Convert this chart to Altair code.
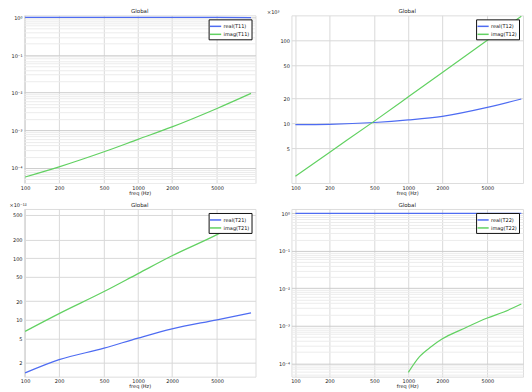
import altair as alt
import pandas as pd

# ---------------- data ----------------
freq = [100, 200, 500, 1000, 2000, 5000, 10000]

real_T11 = [1.0, 1.0, 1.0, 0.999, 0.998, 0.994, 0.985]
imag_T11 = [5.75e-5, 1.07e-4, 2.69e-4, 5.75e-4, 1.23e-3, 3.8e-3, 9.55e-3]

real_T12 = [9.6, 9.7, 10.2, 10.95, 12.1, 15.5, 19.6]      # x10^3
imag_T12 = [2.3, 4.45, 10.6, 20.8, 41.0, 100.0, 195.0]    # x10^3

real_T21 = [1.38, 2.26, 3.47, 5.05, 7.15, 10.0, 13.0]     # x10^-12
imag_T21 = [6.5, 12.6, 28.7, 56.0, 109.0, 240.0, 470.0]   # x10^-12

real_T22 = [1.0, 1.0, 1.0, 0.999, 0.998, 0.995, 0.99]
freq_imag_T22 = [1000, 1250, 1600, 2000, 3000, 5000, 7000, 10000]
imag_T22 = [5.75e-5, 1.48e-4, 2.8e-4, 4.5e-4, 8.1e-4, 1.62e-3, 2.34e-3, 3.8e-3]

panel_title = "Global"
x_ticks = [100, 200, 500, 1000, 2000, 5000]
decades = [1.0, 0.1, 0.01, 0.001, 0.0001]
decade_labels = ["10⁰", "10⁻¹", "10⁻²", "10⁻³", "10⁻⁴"]
ticks_T12 = [5, 10, 20, 50, 100]
ticks_T21 = [2, 5, 10, 20, 50, 100, 200, 500]

BLUE = "#4e6cf2"
GREEN = "#62d162"
FONT = "DejaVu Sans"
W, H = 232, 168


def frame(xs, a, b, na, nb, xb=None):
    rows = []
    for f, v in zip(xs, a):
        rows.append({"freq": f, "value": v, "series": na})
    for f, v in zip(xb or xs, b):
        rows.append({"freq": f, "value": v, "series": nb})
    return pd.DataFrame(rows)


def minor_values(lo_exp, hi_exp):
    vals = []
    for d in range(lo_exp, hi_exp + 1):
        for m in range(1, 10):
            vals.append(m * 10.0 ** d)
    return vals


def major_test(vals):
    return " || ".join(f"abs(datum.value - {v}) < {v * 1e-6}" for v in vals)


def decade_expr():
    parts = [f"abs(datum.value - {v}) < {v * 1e-6} ? '{lab}'" for v, lab in zip(decades, decade_labels)]
    return " : ".join(parts) + " : ''"


def panel(df, names, xdom, ydom, yaxis):
    xaxis = alt.Axis(values=x_ticks, format="d", title="freq (Hz)", grid=True,
                     gridColor="#d9d9d9", ticks=False, domain=False,
                     labelFontSize=5, titleFontSize=5, titleFontWeight="normal",
                     labelPadding=2, titlePadding=0, labelFlush=False,
                     labelColor="#222", titleColor="#222")
    legend = alt.Legend(title=None, orient="top-right", offset=4, strokeColor="#111",
                        fillColor="white", padding=2, labelFontSize=5,
                        symbolType="M-1.4,0H1.4", symbolSize=64, symbolStrokeWidth=1.5,
                        rowPadding=0, labelColor="#111", labelOffset=3)
    lines = alt.Chart(df).mark_line(clip=True, strokeWidth=1.2, interpolate="monotone").encode(
        x=alt.X("freq:Q", scale=alt.Scale(type="log", domain=xdom, nice=False), axis=xaxis),
        y=alt.Y("value:Q", scale=alt.Scale(type="log", domain=ydom, nice=False), axis=yaxis),
        color=alt.Color("series:N", scale=alt.Scale(domain=names, range=[BLUE, GREEN]),
                        legend=legend, sort=names),
    )
    title = alt.Chart(pd.DataFrame({"t": [panel_title]})).mark_text(
        fontSize=5.5, baseline="alphabetic", align="center", color="#222", font=FONT
    ).encode(x=alt.value(W / 2), y=alt.value(-2), text="t:N")
    return alt.layer(lines, title).properties(width=W, height=H)


def decade_axis():
    vals = minor_values(-5, 0)
    return alt.Axis(values=vals, labelExpr=decade_expr(), title=None, grid=True,
                    gridColor={"condition": {"test": major_test(decades), "value": "#cccccc"},
                               "value": "#ececec"},
                    ticks=False, domain=False, labelFontSize=5, labelPadding=2,
                    labelColor="#222")


def plain_axis(vals, title, tx):
    return alt.Axis(values=vals, format="d", title=title, titleAngle=0, titleX=tx, titleY=-2,
                    titleAlign="left", titleBaseline="alphabetic", titleFontSize=5,
                    titleFontWeight="normal", titleColor="#222", grid=True,
                    gridColor="#d9d9d9", ticks=False, domain=False, labelFontSize=5,
                    labelPadding=2, labelColor="#222")


XL = [10 ** 1.99, 10 ** 4.04]
XR = [10 ** 1.965, 10 ** 4.015]

tl = panel(frame(freq, real_T11, imag_T11, "real(T11)", "imag(T11)"),
           ["real(T11)", "imag(T11)"], XL, [10 ** -4.40, 10 ** 0.053], decade_axis())
tr = panel(frame(freq, real_T12, imag_T12, "real(T12)", "imag(T12)"),
           ["real(T12)", "imag(T12)"], XR, [1.9, 200], plain_axis(ticks_T12, "×10³", -25))
bl = panel(frame(freq, real_T21, imag_T21, "real(T21)", "imag(T21)"),
           ["real(T21)", "imag(T21)"], XL, [1.2, 625], plain_axis(ticks_T21, "×10⁻¹²", -15))
br = panel(frame(freq, real_T22, imag_T22, "real(T22)", "imag(T22)", xb=freq_imag_T22),
           ["real(T22)", "imag(T22)"], XR, [10 ** -4.355, 10 ** 0.115], decade_axis())

chart = alt.concat(tl, tr, bl, br, columns=2, spacing={"row": 26, "column": 36},
                   bounds="flush").resolve_scale(
    color="independent", x="independent", y="independent"
).properties(padding=0).configure_view(
    stroke="#7a7a7a", strokeWidth=1.5
).configure(font=FONT)

chart.save("out.html", embed_options={"renderer": "svg", "actions": False})
